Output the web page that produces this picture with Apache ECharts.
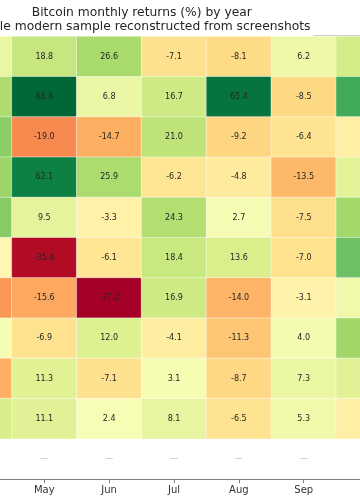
<!DOCTYPE html>
<html>
<head>
<meta charset="utf-8">
<script src="https://cdn.jsdelivr.net/npm/echarts@6/dist/echarts.min.js"></script>
<style>
html,body{margin:0;padding:0;background:#fff;overflow:hidden;width:360px;height:504px;position:relative;}
#chart{position:absolute;left:-52.8px;top:0;width:453.6px;height:504px;}
</style>
</head>
<body>
<div id="chart"></div>
<script>
// ---- data (rows = years top to bottom, null = no data) ----
var months = ['Apr', 'May', 'Jun', 'Jul', 'Aug', 'Sep', 'Oct'];
var years = ['2016','2017','2018','2019','2020','2021','2022','2023','2024','2025','2026'];
// Apr and Oct are only partly visible: values
var apr = [7.3, 25.4, 33.4, 29.5, 34.3, -2.0, -17.3, 2.8, -14.8, 14.1, null];
var may = [18.8, 68.8, -19.0, 62.1, 9.5, -35.4, -15.6, -6.9, 11.3, 11.1, null];
var jun = [26.6, 6.8, -14.7, 25.9, -3.3, -6.1, -37.2, 12.0, -7.1, 2.4, null];
var jul = [-7.1, 16.7, 21.0, -6.2, 24.3, 18.4, 16.9, -4.1, 3.1, 8.1, null];
var aug = [-8.1, 65.4, -9.2, -4.8, 2.7, 13.6, -14.0, -11.3, -8.7, -6.5, null];
var sep = [6.2, -8.5, -6.4, -13.5, -7.5, -7.0, -3.1, 4.0, 7.3, 5.3, null];
var oct = [14.7, 47.8, -3.8, 10.2, 27.7, 39.9, 5.6, 28.5, 10.8, -3.7, null];
var columns = [apr, may, jun, jul, aug, sep, oct];
var titleText = 'Bitcoin monthly returns (%) by year';
var subtitleText = 'le modern sample reconstructed from screenshots';

// ---- build series data ----
var cells = [], missing = [];
var vmin = Infinity, vmax = -Infinity;
columns.forEach(function (col, mi) {
  col.forEach(function (v, yi) {
    if (v === null) { missing.push([mi, yi]); return; }
    vmin = Math.min(vmin, v); vmax = Math.max(vmax, v);
    var partial = (mi === 0 || mi === months.length - 1);
    cells.push({ value: [mi, yi, v], label: { show: !partial } });
  });
});
var missingLabels = missing.filter(function (p) {
  return p[0] !== 0 && p[0] !== months.length - 1;
});

// RdYlGn colormap with a two-slope norm centred on 0
var anchors = ['#a50026','#d73027','#f46d43','#fdae61','#fee08b','#ffffbf',
               '#d9ef8b','#a6d96a','#66bd63','#1a9850','#006837'];
function hex2rgb(h){ return [parseInt(h.substr(1,2),16),parseInt(h.substr(3,2),16),parseInt(h.substr(5,2),16)]; }
function cmap(t){
  t = Math.max(0, Math.min(1, t));
  var p = t * (anchors.length - 1), i = Math.min(Math.floor(p), anchors.length - 2), f = p - i;
  var a = hex2rgb(anchors[i]), b = hex2rgb(anchors[i+1]);
  return 'rgb(' + [0,1,2].map(function(k){ return Math.round(a[k] + (b[k]-a[k])*f); }).join(',') + ')';
}
var stops = [];
var N = 120;
for (var i = 0; i < N; i++) {
  var v = vmin + (vmax - vmin) * i / (N - 1);
  var t = v < 0 ? 0.5 * (v - vmin) / (0 - vmin) : 0.5 + 0.5 * v / vmax;
  stops.push(cmap(t));
}

var font = 'DejaVu Sans';
var off = 52.8; // chart canvas is shifted left by this much (cropped view)
var chart = echarts.init(document.getElementById('chart'), null, { renderer: 'canvas' });
chart.setOption({
  backgroundColor: '#ffffff',
  animation: false,
  title: [
    { text: titleText, left: 142 + off, top: 6.5, textAlign: 'center', padding: 0,
      textStyle: { fontFamily: font, fontSize: 12.3, fontWeight: 'normal', color: '#262626' } },
    { text: subtitleText, left: off, top: 20.5, padding: 0,
      textStyle: { fontFamily: font, fontSize: 12.3, fontWeight: 'normal', color: '#262626' } }
  ],
  grid: { left: 0, right: 0, top: 36.5, height: 442.6, containLabel: false },
  xAxis: {
    type: 'category', data: months,
    axisLine: { show: true, lineStyle: { color: '#808080', width: 1 } },
    axisTick: { show: true, alignWithLabel: true, length: 4, lineStyle: { color: '#808080' } },
    axisLabel: { fontFamily: font, fontSize: 10, color: '#333333', margin: 6,
      interval: function (idx) { return idx !== 0 && idx !== months.length - 1; } },
    splitArea: { show: false }, splitLine: { show: false }
  },
  yAxis: {
    type: 'category', data: years, inverse: true,
    axisLine: { show: false }, axisTick: { show: false }, axisLabel: { show: false },
    splitArea: { show: false }, splitLine: { show: false }
  },
  visualMap: {
    type: 'continuous', show: false, dimension: 2,
    min: vmin, max: vmax, inRange: { color: stops }
  },
  series: [
    {
      type: 'heatmap', data: cells,
      itemStyle: { borderColor: 'rgba(255,255,255,0.45)', borderWidth: 1 },
      label: { show: true, fontFamily: font, fontSize: 8, color: '#262626',
        formatter: function (p) { return p.value[2].toFixed(1); } },
      emphasis: { disabled: true }
    },
    {
      type: 'scatter', data: missingLabels, symbolSize: 0, silent: true,
      label: { show: true, position: 'inside', formatter: '\u2014',
        fontFamily: font, fontSize: 8, color: '#aaaaaa' }
    }
  ],
  graphic: [
    { type: 'line', shape: { x1: 314 + off, y1: 35.5, x2: 360 + off, y2: 35.5 },
      style: { stroke: '#c8c8c8', lineWidth: 1 }, silent: true }
  ]
});
</script>
</body>
</html>
